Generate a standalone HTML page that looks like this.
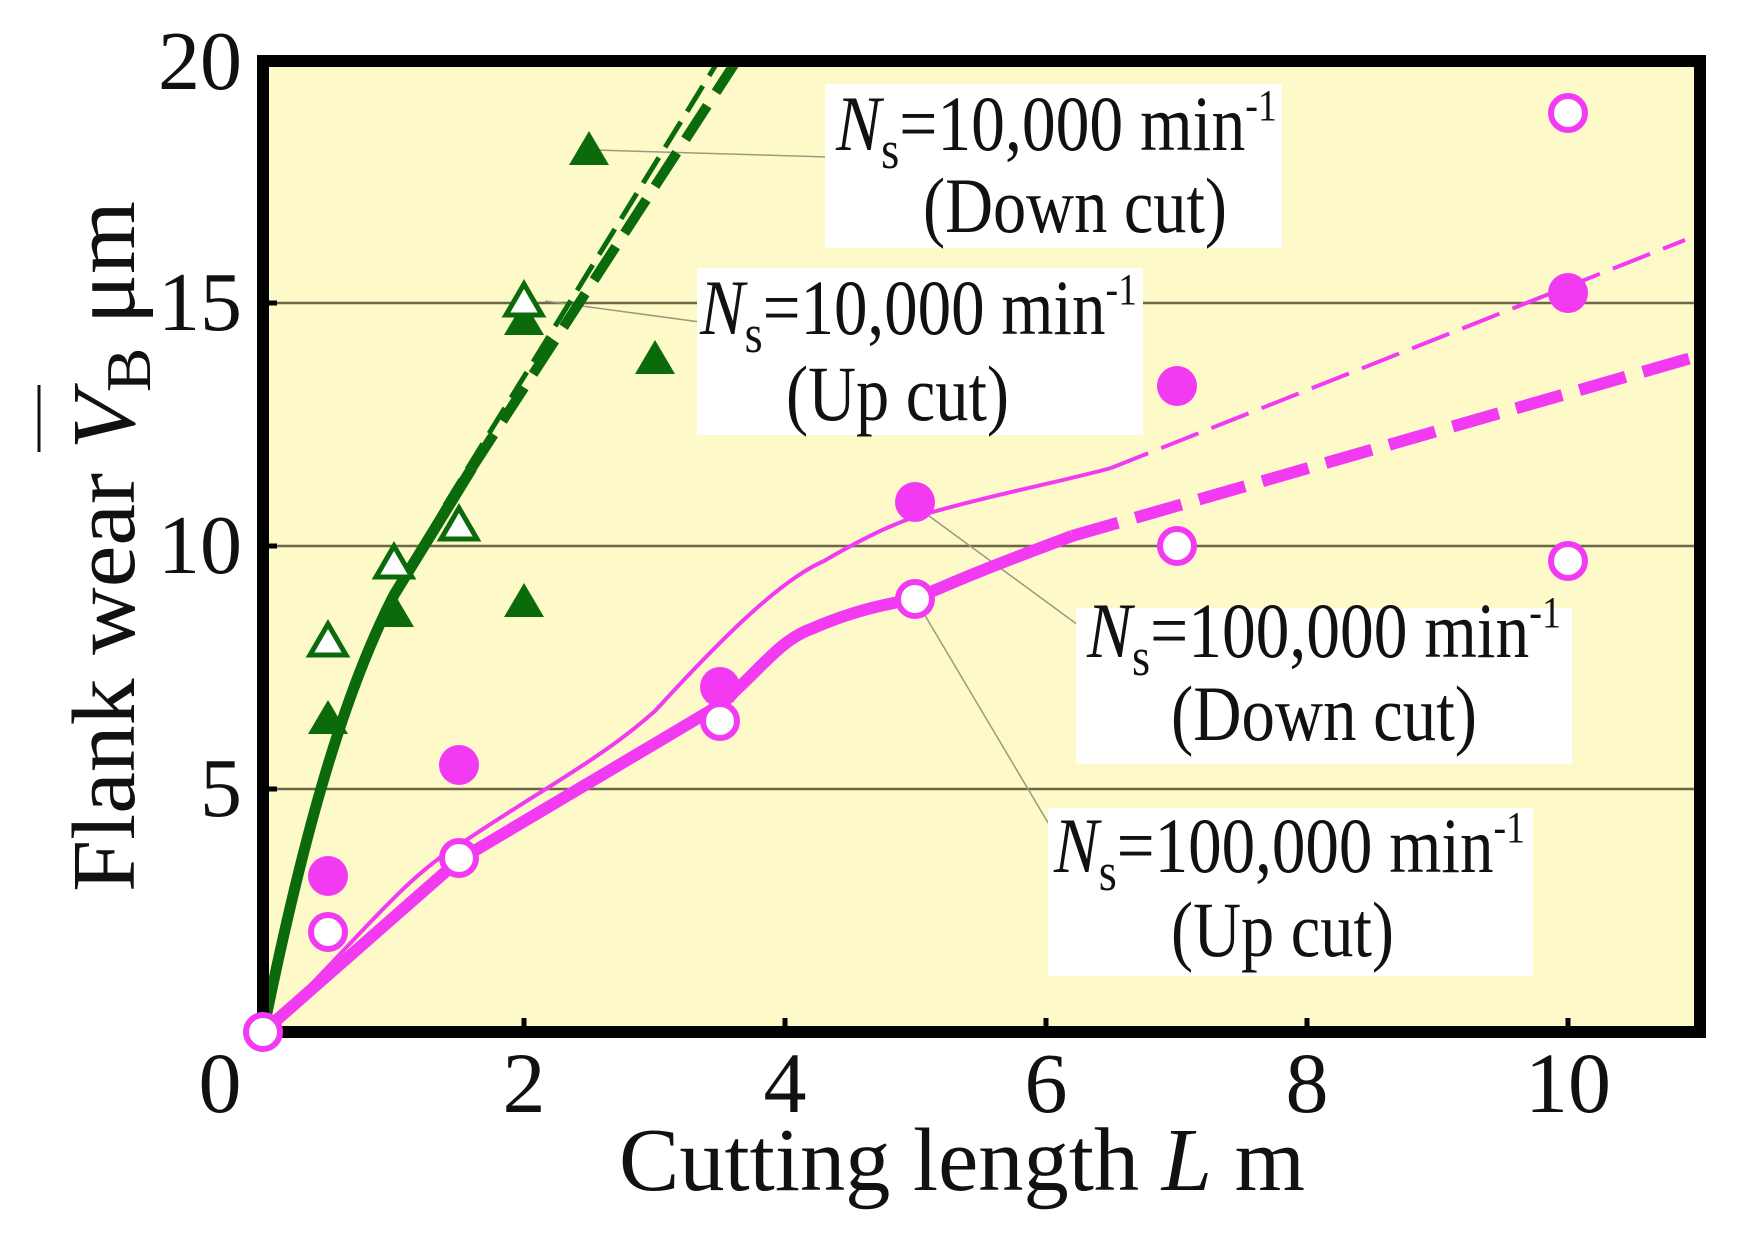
<!DOCTYPE html>
<html><head><meta charset="utf-8"><style>
html,body{margin:0;padding:0;background:#fff;}
svg{display:block;}
text{font-family:"Liberation Serif",serif;fill:#111;}
</style></head><body>
<svg width="1740" height="1239" viewBox="0 0 1740 1239" xmlns="http://www.w3.org/2000/svg">
<rect x="263" y="61" width="1437" height="971" fill="#fdf9c9"/>
<g stroke="#6b6748" stroke-width="2.5">
<line x1="263" y1="789" x2="1700" y2="789"/>
<line x1="263" y1="546" x2="1700" y2="546"/>
<line x1="263" y1="303" x2="1700" y2="303"/>
</g>
<g stroke="#000" stroke-width="5">
<line x1="524" y1="1032" x2="524" y2="1018"/><line x1="785" y1="1032" x2="785" y2="1018"/>
<line x1="1046" y1="1032" x2="1046" y2="1018"/><line x1="1307" y1="1032" x2="1307" y2="1018"/>
<line x1="1568" y1="1032" x2="1568" y2="1018"/>
<line x1="263" y1="789" x2="277" y2="789"/><line x1="263" y1="546" x2="277" y2="546"/><line x1="263" y1="303" x2="277" y2="303"/>
</g>
<g stroke="#9a9a80" stroke-width="1.5" fill="none">
<line x1="595" y1="150" x2="828" y2="157"/>
<line x1="545" y1="301" x2="700" y2="322"/>
<line x1="925" y1="513" x2="1078" y2="625"/>
<line x1="917" y1="602" x2="1050" y2="826"/>
</g>
<rect x="825" y="84" width="457" height="164" fill="#fff"/>
<rect x="697" y="268" width="446" height="167" fill="#fff"/>
<rect x="1076" y="608" width="496" height="156" fill="#fff"/>
<rect x="1048" y="808" width="485" height="168" fill="#fff"/>
<g font-size="78">
<text x="836" y="150" textLength="441" lengthAdjust="spacingAndGlyphs"><tspan font-style="italic">N</tspan><tspan font-size="54" dy="18">s</tspan><tspan dy="-18">=10,000 min</tspan><tspan font-size="44" dy="-30">-1</tspan></text>
<text x="923" y="232" textLength="304" lengthAdjust="spacingAndGlyphs">(Down cut)</text>
<text x="700" y="334" textLength="437" lengthAdjust="spacingAndGlyphs"><tspan font-style="italic">N</tspan><tspan font-size="54" dy="18">s</tspan><tspan dy="-18">=10,000 min</tspan><tspan font-size="44" dy="-30">-1</tspan></text>
<text x="786" y="420" textLength="223" lengthAdjust="spacingAndGlyphs">(Up cut)</text>
<text x="1087" y="657" textLength="474" lengthAdjust="spacingAndGlyphs"><tspan font-style="italic">N</tspan><tspan font-size="54" dy="18">s</tspan><tspan dy="-18">=100,000 min</tspan><tspan font-size="44" dy="-30">-1</tspan></text>
<text x="1171" y="740" textLength="306" lengthAdjust="spacingAndGlyphs">(Down cut)</text>
<text x="1054" y="872" textLength="471" lengthAdjust="spacingAndGlyphs"><tspan font-style="italic">N</tspan><tspan font-size="54" dy="18">s</tspan><tspan dy="-18">=100,000 min</tspan><tspan font-size="44" dy="-30">-1</tspan></text>
<text x="1171" y="956" textLength="223" lengthAdjust="spacingAndGlyphs">(Up cut)</text>
</g>
<g stroke="#0b6b0b" fill="none" stroke-linecap="butt">
<path d="M263,1032 C300,850 340,700 394,595 L472,468" stroke-width="11"/>
<path d="M472,468 L735,63" stroke-width="10" stroke-dasharray="40,16"/>
<path d="M263,1032 C300,850 350,660 445,505" stroke-width="4"/>
<path d="M445,505 L717,63" stroke-width="5" stroke-dasharray="30,12"/>
</g>
<g fill="#0b6b0b">
<path d="M328,700 l20,34 h-40z"/><path d="M394,593 l20,34 h-40z"/><path d="M524,583 l20,34 h-40z"/>
<path d="M589,131 l20,34 h-40z"/><path d="M655,340 l20,34 h-40z"/><path d="M524,301 l20,34 h-40z"/>
</g>
<g fill="#fff" stroke="#0b6b0b" stroke-width="5">
<path d="M328,624 l18,31 h-36z"/><path d="M394,546 l18,31 h-36z"/>
<path d="M459,508 l18,31 h-36z"/><path d="M524,284 l18,31 h-36z"/>
</g>
<g stroke="#f23af2" fill="none">
<path d="M263,1032 L459,860 L720,705 C760,670 780,640 811,629 C850,612 880,605 915,599 C980,570 1030,552 1072,536" stroke-width="12" stroke-linejoin="round"/>
<path d="M1072,536 L1698,356" stroke-width="12" stroke-dasharray="48,18"/>
<path d="M263,1032 C350,950 400,880 459,845 C540,790 600,760 655,711 C720,640 780,580 824,561 C860,540 890,525 915,517 C990,495 1060,482 1111,468" stroke-width="4"/>
<path d="M1111,468 L1685,240" stroke-width="4" stroke-dasharray="40,14"/>
</g>
<g fill="#f23af2">
<circle cx="328" cy="876" r="20"/><circle cx="459" cy="765" r="20"/><circle cx="720" cy="687" r="20"/>
<circle cx="915" cy="502" r="20"/><circle cx="1177" cy="386" r="20"/><circle cx="1568" cy="293" r="20"/>
</g>
<g fill="#fff" stroke="#f23af2" stroke-width="6">
<circle cx="328" cy="932" r="17"/><circle cx="459" cy="858" r="17"/>
<circle cx="720" cy="721" r="17"/><circle cx="915" cy="599" r="17"/><circle cx="1177" cy="546" r="17"/>
<circle cx="1568" cy="561" r="17"/><circle cx="1568" cy="113" r="17"/>
</g>
<rect x="263" y="61" width="1437" height="971" fill="none" stroke="#000" stroke-width="12"/>
<circle cx="263" cy="1032" r="17" fill="#fff" stroke="#f23af2" stroke-width="6"/>
<g font-size="86" text-anchor="middle">
<text x="220" y="1112">0</text><text x="524" y="1112">2</text><text x="785" y="1112">4</text>
<text x="1046" y="1112">6</text><text x="1307" y="1112">8</text><text x="1568" y="1112">10</text>
</g>
<g font-size="84" text-anchor="end">
<text x="242" y="89">20</text><text x="242" y="330">15</text><text x="242" y="573">10</text><text x="242" y="816">5</text>
</g>
<text x="619" y="1190" font-size="90" textLength="686" lengthAdjust="spacingAndGlyphs">Cutting length <tspan font-style="italic">L</tspan>  m</text>
<g transform="translate(134,892) rotate(-90)">
<text x="0" y="0" font-size="90" textLength="691" lengthAdjust="spacingAndGlyphs">Flank wear  <tspan font-style="italic">V</tspan><tspan font-size="64" dy="16">B</tspan><tspan dy="-16">  μm</tspan></text>
</g>
<line x1="39" y1="385" x2="39" y2="452" stroke="#111" stroke-width="3"/>
</svg>
</body></html>
